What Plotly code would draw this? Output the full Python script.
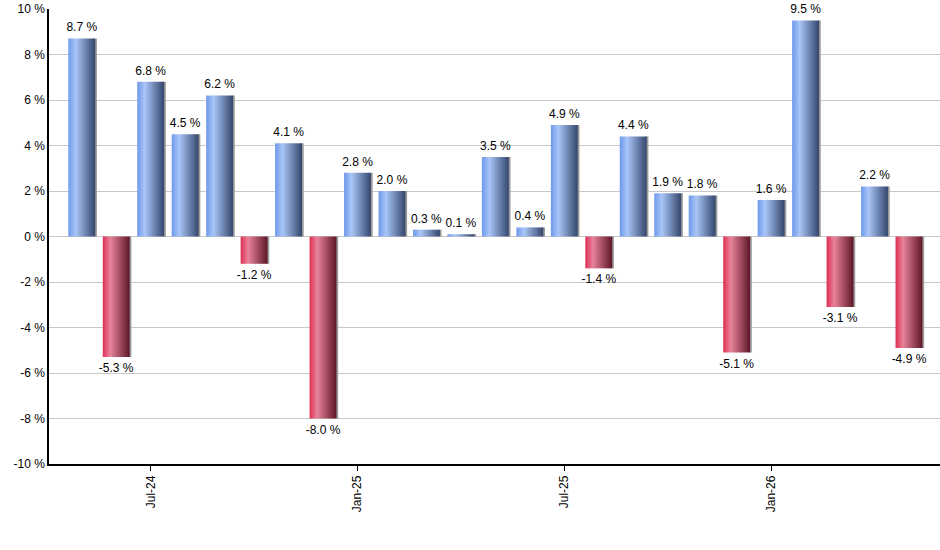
import plotly.graph_objects as go

# monthly returns, May-24 .. May-26
months = ["May-24", "Jun-24", "Jul-24", "Aug-24", "Sep-24", "Oct-24", "Nov-24",
          "Dec-24", "Jan-25", "Feb-25", "Mar-25", "Apr-25", "May-25", "Jun-25",
          "Jul-25", "Aug-25", "Sep-25", "Oct-25", "Nov-25", "Dec-25", "Jan-26",
          "Feb-26", "Mar-26", "Apr-26", "May-26"]
returns = [8.7, -5.3, 6.8, 4.5, 6.2, -1.2, 4.1, -8.0, 2.8, 2.0, 0.3, 0.1, 3.5,
           0.4, 4.9, -1.4, 4.4, 1.9, 1.8, -5.1, 1.6, 9.5, -3.1, 2.2, -4.9]
tick_months = ["Jul-24", "Jan-25", "Jul-25", "Jan-26"]
y_ticks = [-10, -8, -6, -4, -2, 0, 2, 4, 6, 8, 10]

BLUE = [[0, "#6e98ea"], [0.28, "#a9c6f8"], [1, "#34466c"]]
RED = [[0, "#dc2f52"], [0.28, "#e9839b"], [1, "#5e1626"]]
W = 0.78  # bar width in slot units

fig = go.Figure()

for i, v in enumerate(returns):
    x0, x1 = i - W / 2, i + W / 2
    # thin grey shadow on the right edge
    fig.add_trace(go.Scatter(
        x=[x1 - 0.02, x1 + 0.05, x1 + 0.05, x1 - 0.02, x1 - 0.02],
        y=[0, 0, v, v, 0], fill="toself", fillcolor="#9a9a9a",
        line=dict(width=0), mode="lines", hoverinfo="skip", showlegend=False))
    fig.add_trace(go.Scatter(
        x=[x0, x1, x1, x0, x0], y=[0, 0, v, v, 0],
        fill="toself", mode="lines", line=dict(width=0),
        fillgradient=dict(type="horizontal", colorscale=BLUE if v >= 0 else RED),
        name=months[i], hoverinfo="skip", showlegend=False))

pos = [i for i, v in enumerate(returns) if v >= 0]
neg = [i for i, v in enumerate(returns) if v < 0]
# invisible markers push the labels a little away from the bar ends
fig.add_trace(go.Scatter(
    x=pos, y=[returns[i] for i in pos], mode="markers+text",
    marker=dict(size=5, opacity=0),
    text=[f"{returns[i]:.1f} %" for i in pos], textposition="top center",
    textfont=dict(size=12, color="#000"), showlegend=False, cliponaxis=False,
    hoverinfo="skip"))
fig.add_trace(go.Scatter(
    x=neg, y=[returns[i] for i in neg], mode="markers+text",
    marker=dict(size=8, opacity=0),
    text=[f"{returns[i]:.1f} %" for i in neg], textposition="bottom center",
    textfont=dict(size=12, color="#000"), showlegend=False, cliponaxis=False,
    hoverinfo="skip"))

fig.update_layout(
    width=940, height=550,
    margin=dict(l=49, r=0, t=9, b=86),
    plot_bgcolor="white", paper_bgcolor="white",
    font=dict(family="Liberation Sans, Arial, sans-serif", size=12, color="#000"),
)
fig.update_xaxes(
    range=[-0.95, 24.9], automargin=False,
    tickvals=[months.index(m) for m in tick_months], ticktext=tick_months,
    tickangle=-90, ticks="outside", ticklen=5, tickcolor="#000",
    showline=True, linecolor="#000", linewidth=1.5, showgrid=False, zeroline=False)
fig.update_yaxes(
    range=[-10, 10], automargin=False,
    tickvals=y_ticks, ticktext=[f"{t} %" for t in y_ticks],  # plain hyphen minus
    showline=True, linecolor="#000", linewidth=1.5,
    showgrid=True, gridcolor="#c8c8c8", gridwidth=1,
    zeroline=True, zerolinecolor="#c8c8c8", zerolinewidth=1, ticks="")

# drop the default page margin so the figure sits at the window corner
fig.write_html("out.html", config={"displayModeBar": False},
               post_script="document.body.style.margin='0';")
